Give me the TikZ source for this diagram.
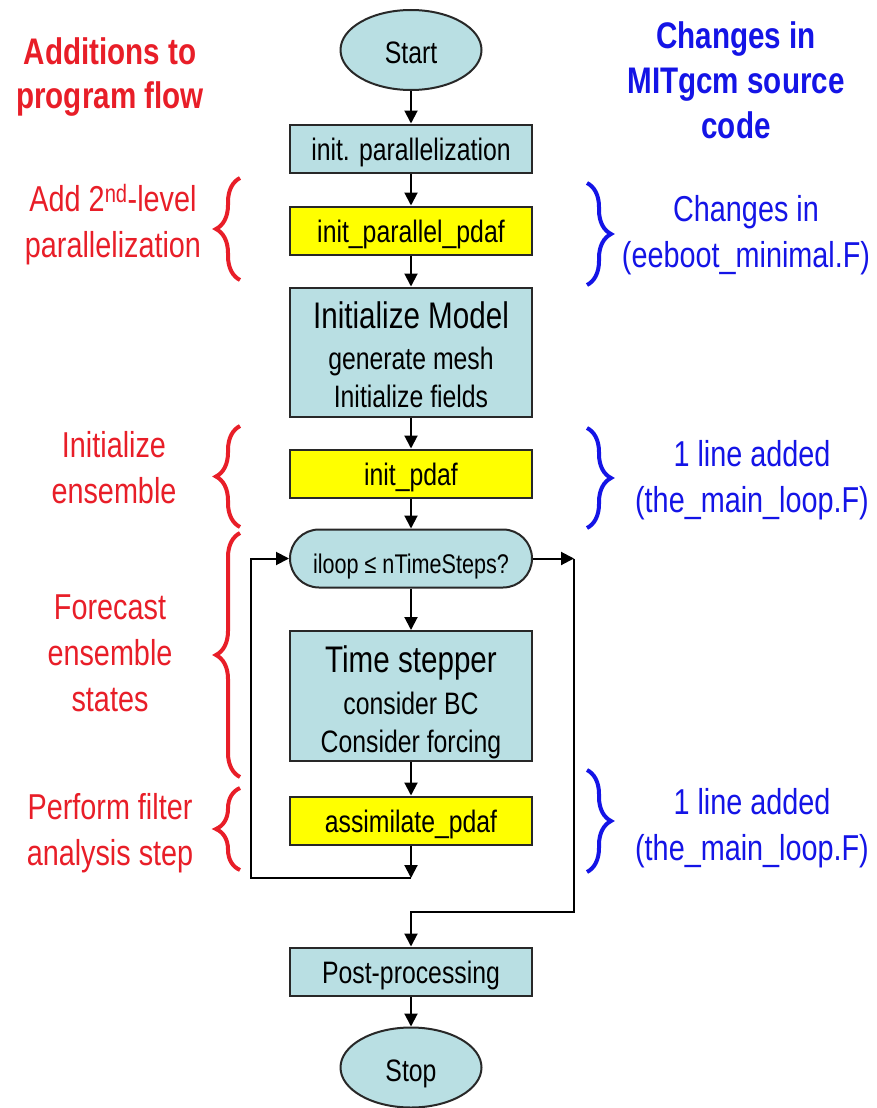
\documentclass[tikz,border=0pt]{standalone}
\usepackage{fontspec}
\setmainfont{Liberation Sans}[FakeStretch=0.8]
\usepackage{xcolor}
\usepackage{tikz}
\usetikzlibrary{arrows.meta,shapes.geometric,decorations.pathreplacing}
\definecolor{boxblue}{RGB}{185,223,227}
\definecolor{pdafyellow}{RGB}{255,255,0}
\definecolor{addred}{RGB}{232,30,40}
\definecolor{srcblue}{RGB}{20,20,230}
\definecolor{edgegray}{RGB}{40,40,40}

\begin{document}
\begin{tikzpicture}[x=1pt, y=-1pt,
  box/.style={draw=edgegray, line width=2pt, fill=boxblue, minimum width=242pt, minimum height=48pt, inner sep=0pt, text height=23pt, text depth=0pt, font=\fontsize{31}{38}\selectfont},
  pdafbox/.style={box, fill=pdafyellow},
  bigbox/.style={box, align=center, minimum height=129pt},
  term/.style={ellipse, draw=edgegray, line width=2pt, fill=boxblue, minimum width=141pt, minimum height=80pt, inner sep=0pt, text height=27pt, text depth=0pt, font=\fontsize{31}{38}\selectfont},
  test/.style={box, rounded corners=29pt, minimum height=58pt, text height=29pt, font=\fontsize{27}{32}\selectfont},
  flow/.style={-{Triangle[length=13pt,width=13pt]}, line width=2pt},
  addlbl/.style={text=addred, align=center, font=\fontsize{36}{46}\selectfont},
  srclbl/.style={text=srcblue, align=center, font=\fontsize{36}{46}\selectfont},
  addbrace/.style={draw=addred, line width=4pt, decorate, decoration={brace, amplitude=24pt}},
  srcbrace/.style={draw=srcblue, line width=4pt, decorate, decoration={brace, amplitude=24pt}}]
\useasboundingbox (0,0) rectangle (876,1108);

\node[term] (start) at (411,50) {Start};
\node[box] (ipar) at (411,148.5) {init. parallelization};
\node[pdafbox] (ppdaf) at (411,230.5) {init\_parallel\_pdaf};
\node[bigbox, text height=110pt] (model) at (411,352) {{\fontsize{37}{44}\selectfont Initialize Model}\\[3pt]generate mesh\\Initialize fields};
\node[pdafbox] (ipdaf) at (411,473.5) {init\_pdaf};
\node[test] (loop) at (411,558.5) {iloop ≤ nTimeSteps?};
\node[bigbox, minimum height=130pt, text height=112pt] (step) at (411,696) {{\fontsize{37}{44}\selectfont Time stepper}\\[4pt]consider BC\\Consider forcing};
\node[pdafbox] (asm) at (411,820.5) {assimilate\_pdaf};
\node[box] (post) at (411,971.5) {Post-processing};
\node[term] (stop) at (411,1067.5) {Stop};

\coordinate (lpin) at (251,558.5);
\coordinate (lpback) at (411,878);
\coordinate (lpout) at (574,558.5);
\coordinate (exitc) at (411,912);

\draw[flow] (start) -- (ipar);
\draw[flow] (ipar) -- (ppdaf);
\draw[flow] (ppdaf) -- (model);
\draw[flow] (model) -- (ipdaf);
\draw[flow] (ipdaf) -- (loop);
\draw[flow] (loop) -- (step);
\draw[flow] (step) -- (asm);
\draw[flow] (asm) -- (lpback);
\draw[flow] (lpback) -| (lpin) -- (loop.west);
\draw[flow] (loop.east) -- (lpout);
\draw[flow] (lpout) |- (exitc) -- (post.north);
\draw[flow] (post) -- (stop);

\node[addlbl, font=\bfseries\fontsize{37}{44}\selectfont] (addhead) at (110,77.5) {Additions to\\program flow};
\node[addlbl] (addpar) at (113,225) {Add 2\textsuperscript{nd}-level\\parallelization};
\node[addlbl] (addens) at (114,468) {Initialize\\ensemble};
\node[addlbl] (addfc) at (110,653.5) {Forecast\\ensemble\\states};
\node[addlbl] (addana) at (110,833) {Perform filter\\analysis step};

\node[srclbl, font=\bfseries\fontsize{37}{45}\selectfont] (srchead) at (736,80) {Changes in\\MITgcm source\\code};
\node[srclbl] (srcboot) at (746,235) {Changes in\\(eeboot\_minimal.F)};
\node[srclbl] (srcinit) at (752,480) {1 line added\\(the\_main\_loop.F)};
\node[srclbl] (srcasm) at (752,828) {1 line added\\(the\_main\_loop.F)};

\draw[addbrace] (240,280) -- (240,178);
\draw[addbrace] (240,527) -- (240,426);
\draw[addbrace] (240,777) -- (240,533);
\draw[addbrace] (240,870) -- (240,788);

\draw[srcbrace] (587,183) -- (587,285);
\draw[srcbrace] (587,428) -- (587,528);
\draw[srcbrace] (587,770) -- (587,872);
\end{tikzpicture}
\end{document}
